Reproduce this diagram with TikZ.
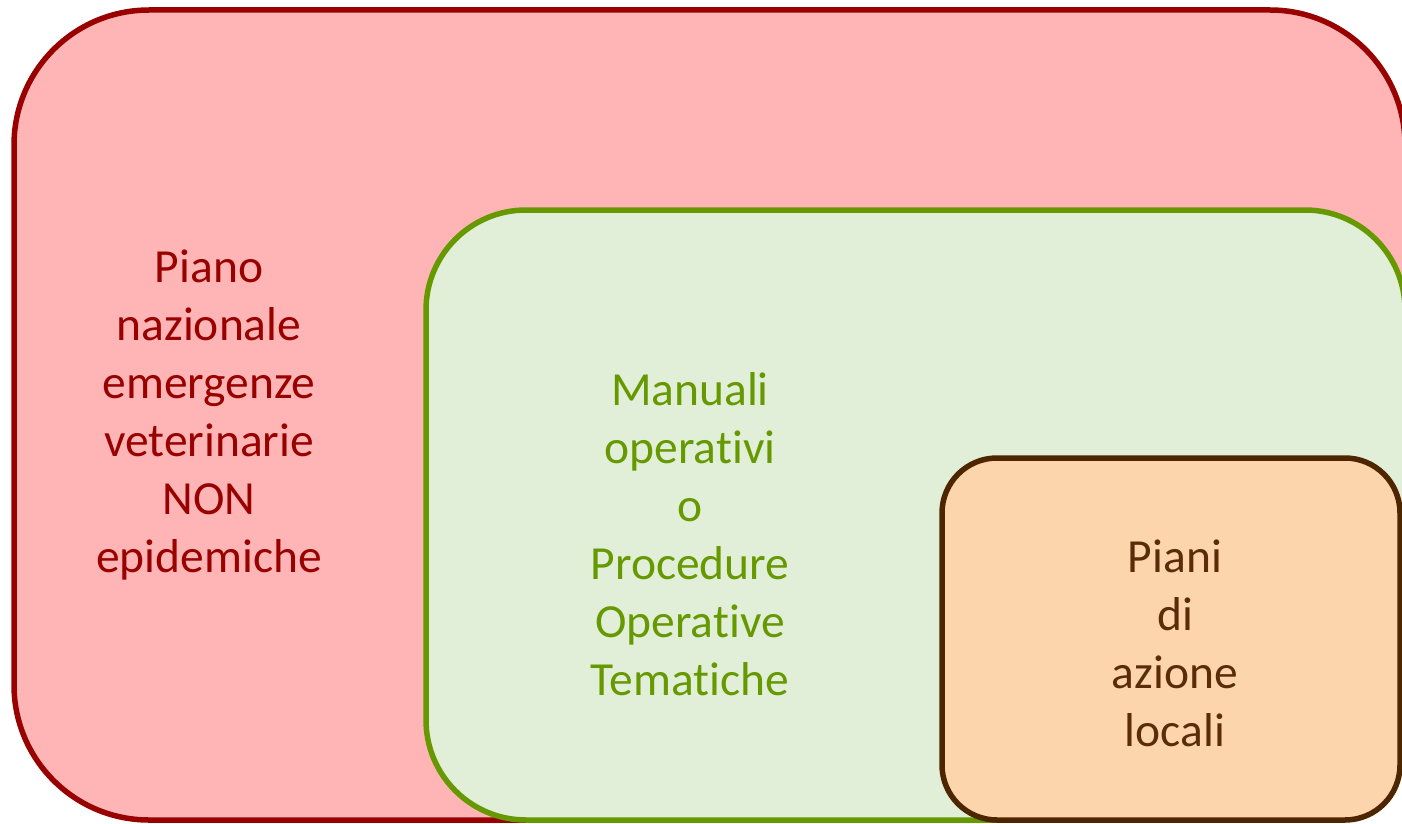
\documentclass[tikz,border=0pt]{standalone}
\usepackage{fontspec}
\setmainfont{Carlito}[Ligatures={NoCommon}]
\definecolor{redfill}{HTML}{FFB5B5}
\definecolor{redline}{HTML}{990000}
\definecolor{greenfill}{HTML}{E1EED8}
\definecolor{greenline}{HTML}{669900}
\definecolor{brownfill}{HTML}{FDD5AD}
\definecolor{brownline}{HTML}{4D2600}
\definecolor{browntext}{HTML}{5A2C08}
\tikzset{
  setbox/.style={draw, line width=5.5pt, inner sep=0pt, outer sep=0pt},
  label txt/.style={align=center, font=\fontsize{47.5}{58}\selectfont, inner sep=0pt}
}
\begin{document}
\begin{tikzpicture}[x=1pt,y=-1pt]
\useasboundingbox (0,0) rectangle (1402,824);
\clip (0,0) rectangle (1402,824);
\node[setbox, fill=redfill, draw=redline, rounded corners=135pt,
  minimum width=1391pt, minimum height=810pt] (outer) at (709.5,415) {};
\node[setbox, fill=greenfill, draw=greenline, rounded corners=100pt,
  minimum width=979pt, minimum height=610pt] (middle) at (915.5,515) {};
\node[setbox, fill=brownfill, draw=brownline, rounded corners=55pt,
  minimum width=458pt, minimum height=362pt] (inner) at (1171,639) {};
\node[label txt, text=redline] (t1) at (209,415)
  {Piano\\nazionale\\emergenze\\veterinarie\\NON\\epidemiche};
\node[label txt, text=greenline] (t2) at (690,534)
  {Manuali\\operativi\\o\\Procedure\\Operative\\Tematiche};
\node[label txt, text=browntext] (t3) at (1175,643)
  {Piani\\di\\azione\\locali};
\end{tikzpicture}
\end{document}
